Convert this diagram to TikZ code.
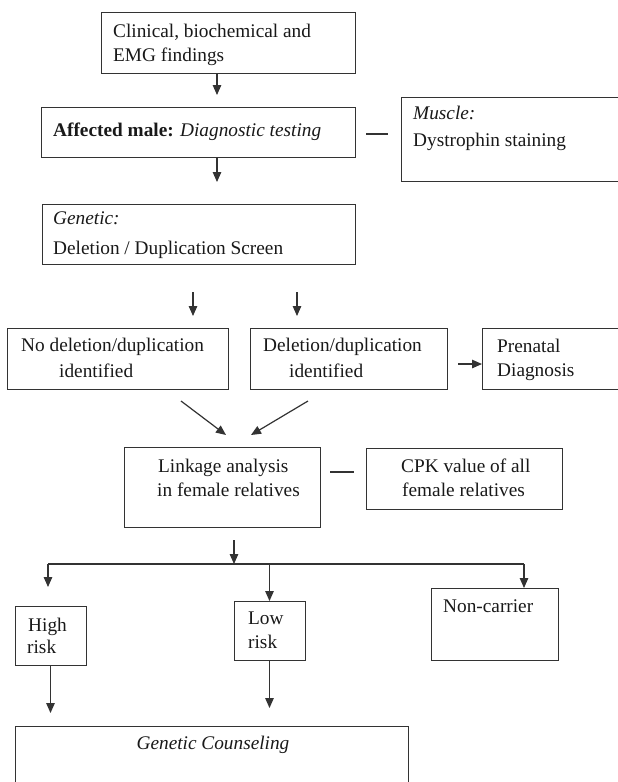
\documentclass[tikz,border=0pt]{standalone}
\usepackage{fontspec}
\setmainfont{Liberation Serif}
\usetikzlibrary{arrows.meta}
\begin{document}
\begin{tikzpicture}[x=1pt,y=-1pt,
  box/.style={draw=black!80, line width=1pt, rectangle, inner sep=0pt, outer sep=0pt, anchor=north west},
  txt/.style={anchor=mid west, inner sep=0pt, text=black!90, font=\fontsize{19.3}{23}\selectfont},
  ctxt/.style={anchor=mid, inner sep=0pt, text=black!90, font=\fontsize{19.3}{23}\selectfont},
  arr/.style={draw=black!80, line width=1.2pt, -{Triangle[length=10pt,width=8.5pt]}},
  ln/.style={draw=black!80, line width=1.2pt}]
\fill[white] (0,0) rectangle (618,782);
\clip (0,0) rectangle (618,782);
% boxes
\node[box, minimum width=254pt, minimum height=61pt] (b1) at (101,12) {};
\node[box, minimum width=314pt, minimum height=50pt] (b2) at (41,107) {};
\node[box, minimum width=230pt, minimum height=84pt] (mus) at (401,97) {};
\node[box, minimum width=313pt, minimum height=60pt] (b3) at (42,204) {};
\node[box, minimum width=221pt, minimum height=61pt] (nodel) at (7,328) {};
\node[box, minimum width=197pt, minimum height=61pt] (del) at (250,328) {};
\node[box, minimum width=150pt, minimum height=61pt] (pren) at (482,328) {};
\node[box, minimum width=196pt, minimum height=80pt] (link) at (124,447) {};
\node[box, minimum width=196pt, minimum height=61pt] (cpk) at (366,448) {};
\node[box, minimum width=71pt, minimum height=59pt] (high) at (15,606) {};
\node[box, minimum width=71pt, minimum height=59pt] (low) at (234,601) {};
\node[box, minimum width=127pt, minimum height=72pt] (nonc) at (431,588) {};
\node[box, minimum width=393pt, minimum height=70pt] (gc) at (15,726) {};
% texts
\node[txt] (t1a) at (113,35) {Clinical, biochemical and};
\node[txt] (t1b) at (113,59) {EMG findings};
\node[txt] (t2) at (53,134) {\textbf{Affected male:} \textit{Diagnostic testing}};
\node[txt] (tma) at (413,117) {\textit{Muscle:}};
\node[txt] (tmb) at (413,144) {Dystrophin staining};
\node[txt] (t3a) at (53,222) {\textit{Genetic:}};
\node[txt] (t3b) at (53,252) {Deletion / Duplication Screen};
\node[txt] (tna) at (21,349) {No deletion/duplication};
\node[txt] (tnb) at (59,375) {identified};
\node[txt] (tda) at (263,349) {Deletion/duplication};
\node[txt] (tdb) at (289,375) {identified};
\node[txt] (tpa) at (497,350) {Prenatal};
\node[txt] (tpb) at (497,374) {Diagnosis};
\node[txt] (tla) at (158,470) {Linkage analysis};
\node[txt] (tlb) at (157,494) {in female relatives};
\node[txt] (tca) at (401,470) {CPK value of all};
\node[txt] (tcb) at (402,494) {female relatives};
\node[txt] (tha) at (28,629) {High};
\node[txt] (thb) at (27,651) {risk};
\node[txt] (tlo) at (248,622) {Low};
\node[txt] (tlr) at (248,646) {risk};
\node[txt] (tnc) at (443,610) {Non-carrier};
\node[ctxt] (tgc) at (213,747) {\textit{Genetic Counseling}};
% connectors
\coordinate (c1) at (217,95);
\draw[arr] (b1.south -| c1) -- (c1);
\coordinate (c2) at (217,182);
\draw[arr] (b2.south -| c2) -- (c2);
\coordinate (d1a) at (366,134);
\coordinate (d1b) at (388,134);
\draw[ln] (d1a) -- (d1b);
\coordinate (s3a) at (193,292);
\coordinate (e3a) at (193,316);
\draw[arr] (s3a) -- (e3a);
\coordinate (s3b) at (297,292);
\coordinate (e3b) at (297,316);
\draw[arr] (s3b) -- (e3b);
\coordinate (s4) at (458,364);
\draw[arr] (s4) -- (pren.west |- s4);
\coordinate (s5a) at (181,401);
\coordinate (e5a) at (226,435);
\draw[arr] (s5a) -- (e5a);
\coordinate (s5b) at (308,401);
\coordinate (e5b) at (251,435);
\draw[arr] (s5b) -- (e5b);
\coordinate (d2a) at (330,472);
\coordinate (d2b) at (354,472);
\draw[ln] (d2a) -- (d2b);
\coordinate (s6) at (234,540);
\coordinate (e6) at (234,564);
\draw[arr] (s6) -- (e6);
\coordinate (bl) at (48,564);
\coordinate (br) at (524,564);
\draw[ln] (bl) -- (br);
\coordinate (eh) at (48,587);
\draw[arr] (bl) -- (eh);
\draw[arr] (low.north |- bl) -- (low.north);
\draw[arr] (br) -- (nonc.north -| br);
\coordinate (g1) at (50,713);
\draw[arr] (high.south) -- (high.south |- g1);
\coordinate (g2) at (269,708);
\draw[arr] (low.south) -- (low.south |- g2);
\end{tikzpicture}
\end{document}
